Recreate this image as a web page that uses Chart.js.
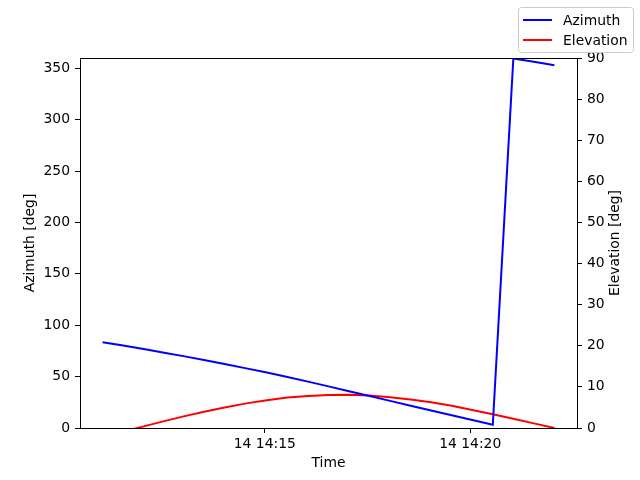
<!DOCTYPE html>
<html>
<head>
<meta charset="utf-8">
<script src="https://cdn.jsdelivr.net/npm/chart.js@4.4.1/dist/chart.umd.min.js"></script>
<style>
	html, body { margin: 0; padding: 0; background: #fff; }
	#wrap { width: 640px; height: 480px; }
</style>
</head>
<body>
<div id="wrap"><canvas id="chart" width="640" height="480"></canvas></div>
<script>
// Data (sample times, day 14)
const times = [
	'14:11:03', '14:11:33', '14:12:03', '14:12:33', '14:13:03', '14:13:33',
	'14:14:03', '14:14:33', '14:15:03', '14:15:33', '14:16:03', '14:16:33',
	'14:17:03', '14:17:33', '14:18:03', '14:18:33', '14:19:03', '14:19:33',
	'14:20:03', '14:20:33', '14:21:03', '14:21:33', '14:22:03'
];
const azimuth = [
	83.5, 80.2, 76.8, 73.3, 69.7, 65.9, 62.0, 58.0, 53.9, 49.6, 45.1, 40.5,
	35.8, 31.1, 26.4, 21.7, 17.0, 12.4, 7.8, 3.2, 359.5, 356.3, 353.0
];
const elevation = [
	-2.2, -0.9, 0.4, 1.67, 2.89, 4.03, 5.07, 5.99, 6.77, 7.39, 7.8, 8.05,
	8.1, 7.9, 7.5, 6.95, 6.25, 5.4, 4.4, 3.35, 2.25, 1.13, 0.0
];
const xTicks = ['14:15:00', '14:20:00'];
const xRange = ['14:10:30', '14:22:36'];
const azTicks = [0, 50, 100, 150, 200, 250, 300, 350];
const elTicks = [0, 10, 20, 30, 40, 50, 60, 70, 80, 90];

const FONT = { family: "'DejaVu Sans', sans-serif", size: 13.9 };

function toSec(str) {
	const p = str.split(':').map(Number);
	return p[0] * 3600 + p[1] * 60 + p[2];
}

function fmtTime(sec) {
	const h = Math.floor(sec / 3600);
	const m = Math.floor((sec % 3600) / 60);
	return '14 ' + h + ':' + String(m).padStart(2, '0');
}

/**
 * Top spine of the axes box and the right axis title (reads bottom to top)
 */
const framePlugin = {
	id: 'frame',
	afterDatasetsDraw(chart) {
		const { ctx, chartArea } = chart;
		ctx.save();
		ctx.strokeStyle = '#000';
		ctx.lineWidth = 1;
		ctx.beginPath();
		ctx.moveTo(chartArea.left, Math.round(chartArea.top) + 0.5);
		ctx.lineTo(chartArea.right, Math.round(chartArea.top) + 0.5);
		ctx.stroke();

		ctx.translate(615, (chartArea.top + chartArea.bottom) / 2);
		ctx.rotate(-Math.PI / 2);
		ctx.font = FONT.size + 'px ' + FONT.family;
		ctx.fillStyle = '#000';
		ctx.textAlign = 'center';
		ctx.textBaseline = 'middle';
		ctx.fillText('Elevation [deg]', 0, 0);
		ctx.restore();
	}
};

/**
 * Figure legend in the upper right corner
 */
const legendPlugin = {
	id: 'figLegend',
	afterDraw(chart) {
		const ctx = chart.ctx;
		const x = 518.5, y = 7.5, w = 115, h = 45, r = 3;
		ctx.save();
		ctx.fillStyle = 'rgba(255,255,255,0.8)';
		ctx.strokeStyle = '#cccccc';
		ctx.lineWidth = 1;
		ctx.beginPath();
		ctx.roundRect(x, y, w, h, r);
		ctx.fill();
		ctx.stroke();

		const items = chart.data.datasets;
		ctx.font = FONT.size + 'px ' + FONT.family;
		ctx.textBaseline = 'middle';
		ctx.textAlign = 'left';
		items.forEach((ds, i) => {
			const ly = 20 + i * 20;
			ctx.strokeStyle = ds.borderColor;
			ctx.lineWidth = 2;
			ctx.beginPath();
			ctx.moveTo(523, ly);
			ctx.lineTo(552, ly);
			ctx.stroke();
			ctx.fillStyle = '#000';
			ctx.fillText(ds.label, 563, ly + 1);
		});
		ctx.restore();
	}
};

function init() {
	const ctx = document.getElementById('chart').getContext('2d');

	const azPoints = times.map((t, i) => ({ x: toSec(t), y: azimuth[i] }));
	const elPoints = times.map((t, i) => ({ x: toSec(t), y: elevation[i] }));

	const tickGrid = {
		drawOnChartArea: false,
		drawTicks: true,
		tickLength: 5,
		tickWidth: 1,
		color: '#000'
	};
	const border = { display: true, color: '#000', width: 1 };

	new Chart(ctx, {
		type: 'line',
		data: {
			datasets: [{
				label: 'Azimuth',
				data: azPoints,
				yAxisID: 'y',
				borderColor: '#0000ff',
				borderWidth: 2,
				pointRadius: 0,
				tension: 0,
				clip: 0
			}, {
				label: 'Elevation',
				data: elPoints,
				yAxisID: 'y1',
				borderColor: '#ff0000',
				borderWidth: 2,
				pointRadius: 0,
				tension: 0,
				clip: 0
			}]
		},
		options: {
			responsive: false,
			animation: false,
			layout: { padding: { top: 58, left: 0, right: 0, bottom: 0 } },
			plugins: {
				legend: { display: false },
				tooltip: { enabled: false }
			},
			scales: {
				x: {
					type: 'linear',
					min: toSec(xRange[0]),
					max: toSec(xRange[1]),
					grid: tickGrid,
					border: border,
					afterBuildTicks: s => { s.ticks = xTicks.map(t => ({ value: toSec(t) })); },
					afterFit: s => { s.height = 52; },
					ticks: {
						color: '#000',
						font: FONT,
						padding: 3,
						maxRotation: 0,
						callback: v => fmtTime(v)
					},
					title: {
						display: true,
						text: 'Time',
						color: '#000',
						font: FONT,
						padding: { top: 0, bottom: 8 }
					}
				},
				y: {
					position: 'left',
					min: 0,
					max: 360,
					grid: tickGrid,
					border: border,
					afterBuildTicks: s => { s.ticks = azTicks.map(v => ({ value: v })); },
					afterFit: s => { s.width = 80; },
					ticks: { color: '#000', font: FONT, padding: 5 },
					title: {
						display: true,
						text: 'Azimuth [deg]',
						color: '#000',
						font: FONT,
						padding: { top: 22, bottom: 0 }
					}
				},
				y1: {
					position: 'right',
					min: 0,
					max: 90,
					grid: tickGrid,
					border: border,
					afterBuildTicks: s => { s.ticks = elTicks.map(v => ({ value: v })); },
					afterFit: s => { s.width = 63; },
					ticks: { color: '#000', font: FONT, padding: 5 },
					title: { display: false }
				}
			}
		},
		plugins: [framePlugin, legendPlugin]
	});
}

document.addEventListener('DOMContentLoaded', init);
</script>
</body>
</html>
